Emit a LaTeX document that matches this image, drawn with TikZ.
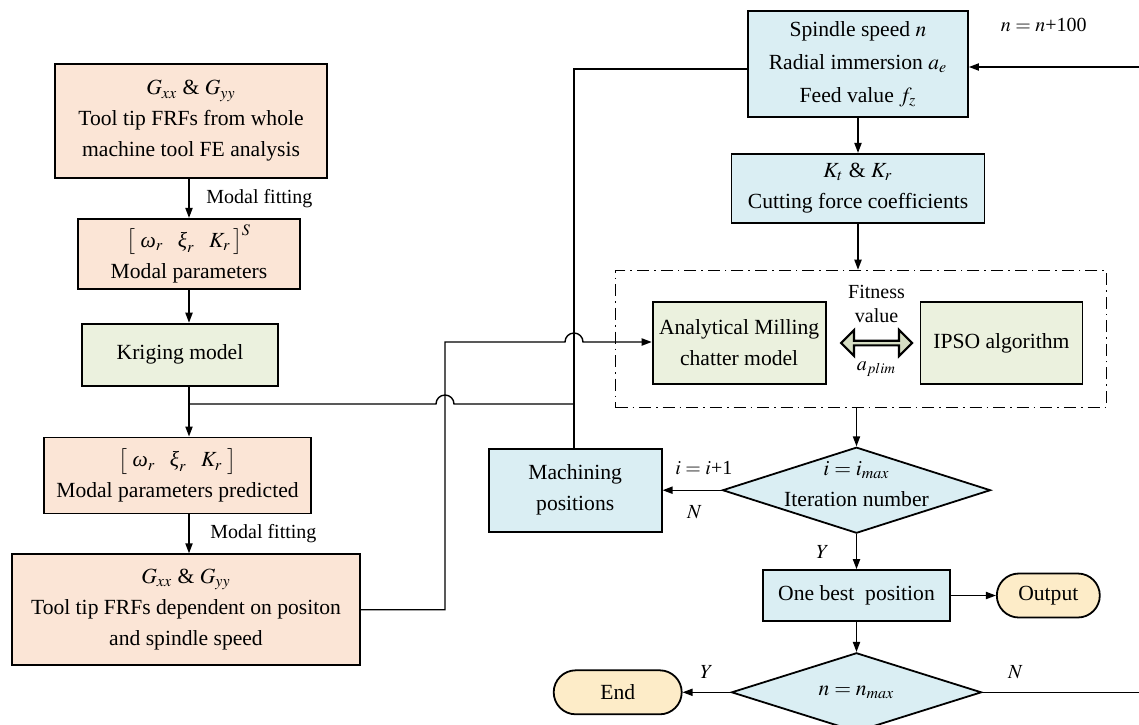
\documentclass[tikz,border=0pt]{standalone}
\usepackage{mathptmx}
\usepackage[no-math]{fontspec}
\setmainfont{Liberation Serif}
\usetikzlibrary{positioning, arrows.meta, shapes.geometric, shapes.arrows}
\definecolor{peach}{RGB}{251,229,214}
\definecolor{sage}{RGB}{235,241,222}
\definecolor{sky}{RGB}{218,238,243}
\definecolor{cream}{RGB}{253,236,200}
\definecolor{olive}{RGB}{214,222,196}
\newcommand{\boxfont}{\fontsize{10.8}{15.5}\selectfont}
\newcommand{\spfont}{\fontsize{10.8}{16.5}\selectfont}
\newcommand{\lblfont}{\fontsize{10}{12}\selectfont}
\newcommand{\gom}{\mbox{\itshape ω}}
\newcommand{\gxi}{\mbox{\itshape ξ}}

\begin{document}
\begin{tikzpicture}[->, >={Triangle[length=5pt,width=3.6pt]}, x=0.5pt, y=-0.5pt, line width=0.7pt,
	cell/.style={draw, line width=0.9pt, inner sep=0pt, align=center, font=\boxfont},
	pk/.style={cell, fill=peach},
	gn/.style={cell, fill=sage},
	bl/.style={cell, fill=sky},
	term/.style={cell, fill=cream, rounded corners=11pt},
	dec/.style={cell, fill=sky, diamond, aspect=3},
	dbox/.style={draw, line width=0.8pt, dash pattern=on 6pt off 2.5pt on 0.8pt off 2.5pt, inner sep=0pt},
	twin/.style={double arrow, draw, line width=1.1pt, fill=olive, inner sep=0pt, minimum height=35.5pt, minimum width=13pt, double arrow head extend=2.5pt},
	lbl/.style={font=\lblfont}]
	\useasboundingbox (0,0) rectangle (1139,724);

	\node[pk, minimum width=136pt, minimum height=57pt] (a1) at (191,121) {$G_{xx}$ \& $G_{yy}$\\Tool tip FRFs from whole\\machine tool FE analysis};
	\node[pk, minimum width=111pt, minimum height=35pt, below=19.5pt of a1, xshift=-1pt] (a2) {$\big[\;\gom_r\;\;\;\gxi_r\;\;\;K_r\,\big]^S$\\Modal parameters};
	\node[gn, minimum width=98pt, minimum height=31pt, below=16.5pt of a2, xshift=-4.5pt] (kr) {Kriging model};
	\node[pk, minimum width=133.5pt, minimum height=38pt, below=25pt of kr, xshift=-1.25pt] (a4) {$\big[\;\gom_r\;\;\;\gxi_r\;\;\;K_r\;\big]$\\Modal parameters predicted};
	\node[pk, minimum width=174pt, minimum height=55.5pt, below=19.5pt of a4, xshift=4.25pt] (a5) {$G_{xx}$ \& $G_{yy}$\\Tool tip FRFs dependent on positon\\and spindle speed};

	\node[bl, font=\spfont, minimum width=110pt, minimum height=53pt] (sp) at (858,64) {Spindle speed $n$\\Radial immersion $a_e$\\Feed value $f_z$};
	\node[bl, minimum width=126.5pt, minimum height=34.5pt, below=17.5pt of sp] (kt) {$K_t$ \& $K_r$\\Cutting force coefficients};
	\node[dbox, minimum width=245.5pt, minimum height=68.5pt, below=23pt of kt, xshift=1.5pt] (db) {};
	\node[gn, minimum width=86.5pt, minimum height=41pt, right=18.5pt of db.west, yshift=-2pt] (an) {Analytical Milling\\chatter model};
	\node[gn, minimum width=81pt, minimum height=41pt, right=46.5pt of an] (ip) {IPSO algorithm};
	\node[twin, right=6.5pt of an] (fv) {};
	\node[lbl, align=center, above=5pt of fv] (fvt) {Fitness\\value};
	\node[lbl, below=4pt of fv] (ap) {$a_{plim}$};

	\node[dec, minimum width=134pt, minimum height=43pt, below=19pt of db, xshift=-2.25pt] (d1) {\smash{\begin{tabular}{@{}c@{}}$i = i_{max}$\\Iteration number\end{tabular}}};
	\node[bl, minimum width=86.5pt, minimum height=41.5pt, left=29.5pt of d1] (mp) {Machining\\positions};
	\node[bl, minimum width=93.5pt, minimum height=25.5pt, below=17.5pt of d1] (ob) {One best\ \ position};
	\node[term, minimum width=51.5pt, minimum height=22pt, right=22.5pt of ob] (op) {Output};
	\node[dec, minimum width=125pt, minimum height=39.5pt, below=15pt of ob] (d2) {$n = n_{max}$};
	\node[term, minimum width=64pt, minimum height=22pt, left=24pt of d2] (en) {End};

	\coordinate (nr) at (1139,67);
	\coordinate (nb) at (1139,684);
	\coordinate (c1) at (574,69);
	\coordinate (c2) at (445,342);
	\coordinate (j1) at (189,404);

	\draw (a1.south -| a2) -- node[lbl, right=5pt] {Modal fitting} (a2.north);
	\draw (a2) -- (a2 |- kr.north);
	\draw (a2 |- kr.south) -- (a2 |- a4.north);
	\draw (a2 |- a4.south) -- node[lbl, right=7pt] {Modal fitting} (a2 |- a5.north);
	\draw[-] (j1) -- (436,404) arc[start angle=180, end angle=0, radius=4.5pt] -- (c1 |- j1);
	\draw[-] (mp.north -| c1) -- (c1) -- (c1 -| sp.west);
	\draw (a5.east) -| (c2) -- (565,342) arc[start angle=180, end angle=0, radius=4.5pt] -- (an.west |- c2);

	\draw (sp) -- (kt);
	\draw (kt) -- (kt |- db.north);
	\draw (d1 |- db.south) -- (d1);
	\draw (d1) -- node[lbl, above=4pt, pos=0.3] {$i = i$+1} node[lbl, below=4pt, pos=0.46] {$N$} (mp);
	\draw (d1) -- node[lbl, left=10pt] {$Y$} (ob);
	\draw (ob) -- (op);
	\draw (ob) -- (d2);
	\draw (d2) -- node[lbl, above=3pt] {$Y$} (en);
	\draw[-] (d2.east) -- node[lbl, above=3pt, pos=0.21] {$N$} (d2.east -| nb);
	\draw (nr) -- node[lbl, above=14pt, pos=0.56] {$n = n$+100} (nr -| sp.east);
\end{tikzpicture}
\end{document}
